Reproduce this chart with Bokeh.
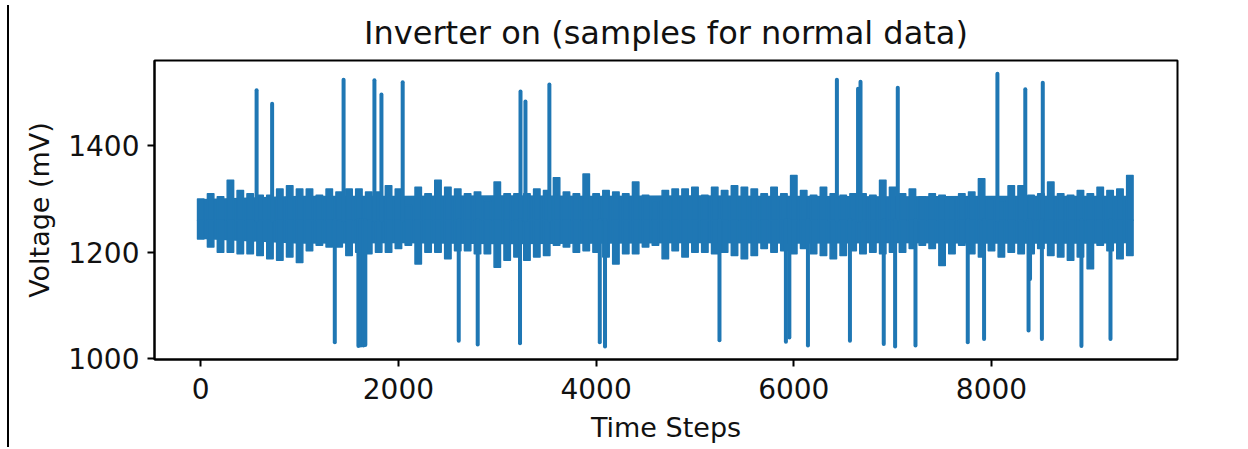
from bokeh.plotting import figure
from bokeh.models import Range1d, FixedTicker, InlineStyleSheet
from bokeh.embed import file_html
from bokeh.resources import INLINE

# ---- data ----
# envelope extremes of the noisy signal, one reading per 100 time steps
env_steps = list(range(0, 9401, 100))
env_high = [1300, 1310, 1304, 1335, 1316, 1310, 1307, 1307, 1319, 1325,
            1319, 1319, 1307, 1319, 1313, 1319, 1319, 1313, 1313, 1325,
            1319, 1288, 1322, 1310, 1335, 1322, 1319, 1310, 1313, 1297,
            1332, 1310, 1310, 1310, 1319, 1316, 1340, 1313, 1310, 1347,
            1310, 1316, 1313, 1310, 1332, 1307, 1297, 1316, 1319, 1319,
            1322, 1307, 1322, 1316, 1325, 1322, 1319, 1310, 1322, 1310,
            1344, 1316, 1307, 1322, 1310, 1307, 1310, 1310, 1307, 1335,
            1322, 1310, 1319, 1304, 1310, 1307, 1304, 1310, 1313, 1338,
            1300, 1297, 1325, 1325, 1307, 1310, 1332, 1310, 1307, 1316,
            1310, 1322, 1316, 1319, 1344]
env_low = [1225, 1210, 1200, 1200, 1197, 1197, 1194, 1188, 1185, 1191,
           1181, 1203, 1213, 1210, 1210, 1194, 1200, 1197, 1200, 1200,
           1207, 1213, 1178, 1200, 1200, 1188, 1203, 1203, 1197, 1197,
           1172, 1185, 1191, 1185, 1191, 1194, 1213, 1210, 1200, 1203,
           1200, 1191, 1178, 1197, 1197, 1210, 1213, 1188, 1203, 1191,
           1200, 1200, 1197, 1200, 1194, 1188, 1194, 1207, 1200, 1203,
           1197, 1207, 1197, 1194, 1188, 1194, 1203, 1197, 1200, 1197,
           1200, 1200, 1207, 1213, 1207, 1175, 1197, 1213, 1197, 1191,
           1203, 1191, 1200, 1197, 1197, 1207, 1194, 1191, 1185, 1191,
           1169, 1213, 1203, 1188, 1194]

# solid core of the band, one reading per 1000 time steps (last = end)
core_steps = [0, 1000, 2000, 3000, 4000, 5000, 6000, 7000, 8000, 9000, 9409]
core_high = [1300, 1306, 1306, 1307, 1306, 1307, 1306, 1305, 1306, 1306, 1306]
core_low = [1225, 1216, 1217, 1215, 1216, 1217, 1216, 1217, 1216, 1216, 1217]

up_spike_steps = [565, 722, 1445, 1757, 1828, 2043, 3235, 3285, 3527,
                  6436, 6650, 6675, 7052, 8060, 8342, 8519]
up_spike_values = [1504, 1479, 1524, 1523, 1496, 1519, 1502, 1483, 1515,
                   1524, 1507, 1520, 1509, 1535, 1506, 1518]

down_spike_steps = [1356, 1595, 1620, 1645, 1665, 2610, 2802, 3230, 4037,
                    4090, 5248, 5920, 5955, 6143, 6568, 6910, 7025, 7231,
                    7760, 7925, 8375, 8390, 8510, 8910, 9204]
down_spike_values = [1031, 1024, 1025, 1025, 1026, 1034, 1027, 1029, 1031,
                     1023, 1035, 1032, 1040, 1025, 1034, 1028, 1023, 1025,
                     1031, 1037, 1053, 1150, 1037, 1024, 1037]

band_center = 1260
x_ticks = [0, 2000, 4000, 6000, 8000]
y_ticks = [1000, 1200, 1400]

title_text = "Inverter on (samples for normal data)"
x_label = "Time Steps"
y_label = "Voltage (mV)"

BLUE = "#1f77b4"
FONT = "DejaVu Sans"

# thin black rule at the far left of the reference screenshot
rule_css = InlineStyleSheet(css="""
:host::before {
  content: "";
  position: absolute;
  left: 7px; top: 5px;
  width: 2px; height: 442px;
  background: #000;
  z-index: 10;
}
""")

p = figure(width=1248, height=449, output_backend="svg", toolbar_location=None,
           x_range=Range1d(-468, 9882), y_range=Range1d(998.7, 1560),
           min_border_left=154, min_border_right=71,
           min_border_top=60, min_border_bottom=90,
           title=title_text, stylesheets=[rule_css])

p.background_fill_color = "white"
p.border_fill_color = "white"
p.outline_line_color = "black"
p.outline_line_width = 2
p.xgrid.visible = False
p.ygrid.visible = False

# solid core of the noise band
p.varea(x=core_steps, y1=core_low, y2=core_high, fill_color=BLUE, fill_alpha=1.0)
p.line([0, 0], [core_low[0], core_high[0]], line_color=BLUE, line_width=4)
p.line([core_steps[-1], core_steps[-1]], [core_low[-1], core_high[-1]],
       line_color=BLUE, line_width=4)

# ragged fringes of the band reaching the envelope extremes
p.vbar(x=env_steps, width=65, bottom=band_center, top=env_high,
       fill_color=BLUE, line_color=BLUE, line_width=1.5, line_join="round")
p.vbar(x=env_steps, width=65, bottom=env_low, top=band_center,
       fill_color=BLUE, line_color=BLUE, line_width=1.5, line_join="round")

# spikes
p.segment(x0=up_spike_steps, y0=[band_center] * len(up_spike_steps),
          x1=up_spike_steps, y1=up_spike_values,
          line_color=BLUE, line_width=4, line_cap="round")
p.segment(x0=down_spike_steps, y0=[band_center] * len(down_spike_steps),
          x1=down_spike_steps, y1=down_spike_values,
          line_color=BLUE, line_width=4, line_cap="round")

p.xaxis.ticker = FixedTicker(ticks=x_ticks)
p.yaxis.ticker = FixedTicker(ticks=y_ticks)

for ax in (p.xaxis[0], p.yaxis[0]):
    ax.axis_line_color = "black"
    ax.axis_line_width = 2
    ax.major_tick_line_color = "black"
    ax.major_tick_line_width = 2
    ax.major_tick_out = 7
    ax.major_tick_in = 0
    ax.minor_tick_line_color = None
    ax.major_label_text_font = FONT
    ax.major_label_text_font_size = "28px"
    ax.major_label_text_color = "#111111"
    ax.axis_label_text_font = FONT
    ax.axis_label_text_font_size = "27px"
    ax.axis_label_text_font_style = "normal"
    ax.axis_label_text_color = "#111111"

p.xaxis.axis_label = x_label
p.yaxis.axis_label = y_label
p.xaxis.major_label_standoff = 11
p.yaxis.major_label_standoff = 8
p.xaxis.axis_label_standoff = 10
p.yaxis.axis_label_standoff = 10

p.title.text_font = FONT
p.title.text_font_size = "32px"
p.title.text_font_style = "normal"
p.title.text_color = "#111111"
p.title.align = "center"
p.title.text_line_height = 0.8
p.title.standoff = 18

open("out.html", "w").write(file_html(p, INLINE))
